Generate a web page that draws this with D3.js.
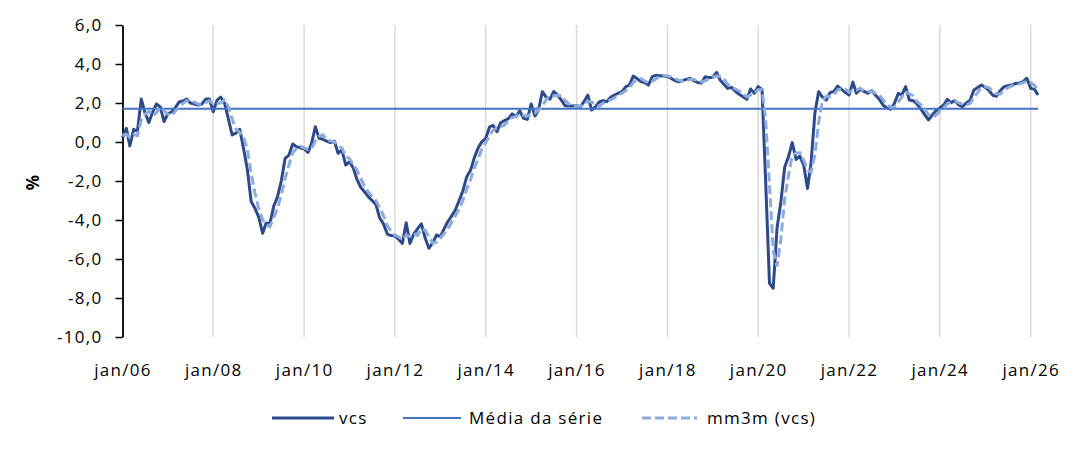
<!DOCTYPE html>
<html>
<head>
<meta charset="utf-8">
<script src="https://cdn.jsdelivr.net/npm/d3@7/dist/d3.min.js"></script>
<style>
  body { margin: 0; background: #fff; }
  svg text { font-family: "Open Sans", sans-serif; font-size: 17px; fill: #000; letter-spacing: 1.3px; }
</style>
</head>
<body>
<script>
// size of the picture
const width = 1082;
const height = 462;

// vcs, % (monthly, jan/06 .. mar/26)
const vcs = [
  0.2, 0.7, -0.2, 0.65, 0.55, 2.2, 1.5, 1.0, 1.55, 1.95, 1.8, 1.05,
  1.45, 1.55, 1.75, 2.05, 2.1, 2.2, 2.0, 1.95, 1.9, 1.95, 2.2, 2.2,
  1.55, 2.15, 2.3, 2.0, 1.2, 0.36, 0.45, 0.65, -0.35, -1.4, -3.05, -3.4,
  -3.85, -4.68, -4.17, -4.17, -3.3, -2.8, -2.0, -0.84, -0.67, -0.1, -0.24, -0.3,
  -0.35, -0.53, -0.1, 0.78, 0.19, 0.14, 0.05, -0.03, 0.05, -0.58, -0.4, -1.18,
  -1.01, -1.35, -1.9, -2.32, -2.55, -2.8, -3.0, -3.2, -3.9, -4.2, -4.72, -4.8,
  -4.82, -5.0, -5.2, -4.14, -5.2, -4.72, -4.45, -4.2, -4.94, -5.45, -5.16, -4.77,
  -4.85, -4.43, -4.09, -3.8, -3.49, -3.0, -2.5, -1.78, -1.44, -0.8, -0.3, 0.02,
  0.19, 0.78, 0.85, 0.53, 0.99, 1.1, 1.2, 1.44, 1.3, 1.6, 1.21, 1.16,
  1.95, 1.33, 1.64, 2.58, 2.3, 2.2, 2.58, 2.41, 2.15, 1.86, 1.85, 1.85,
  1.86, 1.8, 2.07, 2.41, 1.64, 1.8, 2.05, 2.12, 2.07, 2.29, 2.41, 2.5,
  2.58, 2.84, 2.92, 3.38, 3.26, 3.1, 3.05, 2.92, 3.35, 3.42, 3.4, 3.38,
  3.35, 3.26, 3.15, 3.09, 3.15, 3.21, 3.26, 3.15, 3.05, 3.03, 3.35, 3.3,
  3.32, 3.57, 3.18, 2.95, 2.75, 2.8, 2.6, 2.45, 2.32, 2.19, 2.72, 2.5,
  2.84, 2.7, -2.0, -7.25, -7.5, -4.4, -3.1, -1.3, -0.75, -0.03, -0.89, -0.72,
  -1.18, -2.38, -1.09, 1.47, 2.58, 2.3, 2.15, 2.53, 2.6, 2.87, 2.7, 2.55,
  2.41, 3.07, 2.5, 2.7, 2.6, 2.5, 2.63, 2.41, 2.19, 1.9, 1.75, 1.68,
  1.98, 2.5, 2.41, 2.84, 2.15, 2.12, 1.95, 1.7, 1.4, 1.13, 1.38, 1.6,
  1.75, 1.9, 2.19, 2.02, 2.12, 1.9, 1.81, 2.0, 2.15, 2.67, 2.8, 2.92,
  2.8, 2.63, 2.4, 2.35, 2.63, 2.84, 2.88, 2.92, 3.0, 3.02, 3.1, 3.27,
  2.75, 2.7, 2.41
];

// mm3m (vcs), % - the dashed line
const mm3m = [
  0.35, 0.4, 0.23, 0.38, 0.33, 1.13, 1.42, 1.57, 1.35, 1.5, 1.77, 1.6,
  1.43, 1.35, 1.58, 1.78, 1.97, 2.12, 2.1, 2.05, 1.95, 1.93, 2.02, 2.12,
  1.98, 1.97, 2.0, 2.15, 1.83, 1.19, 0.67, 0.49, 0.25, -0.37, -1.6, -2.62,
  -3.43, -3.98, -4.23, -4.34, -3.88, -3.42, -2.7, -1.88, -1.17, -0.54, -0.34, -0.21,
  -0.3, -0.39, -0.33, 0.05, 0.29, 0.37, 0.13, 0.05, 0.02, -0.19, -0.31, -0.72,
  -0.86, -1.18, -1.42, -1.86, -2.26, -2.56, -2.78, -3.0, -3.37, -3.77, -4.27, -4.57,
  -4.78, -4.87, -5.01, -4.78, -4.85, -4.69, -4.79, -4.46, -4.53, -4.86, -5.18, -5.13,
  -4.93, -4.68, -4.46, -4.11, -3.79, -3.43, -3.0, -2.43, -1.91, -1.34, -0.85, -0.36,
  -0.03, 0.33, 0.61, 0.72, 0.79, 0.87, 1.1, 1.25, 1.31, 1.45, 1.37, 1.32,
  1.44, 1.48, 1.64, 1.85, 2.17, 2.36, 2.36, 2.4, 2.38, 2.14, 1.95, 1.85,
  1.85, 1.84, 1.91, 2.09, 2.04, 1.95, 1.83, 1.99, 2.08, 2.16, 2.26, 2.4,
  2.5, 2.64, 2.78, 3.05, 3.19, 3.25, 3.14, 3.02, 3.11, 3.23, 3.39, 3.4,
  3.38, 3.33, 3.25, 3.17, 3.13, 3.15, 3.21, 3.21, 3.15, 3.08, 3.14, 3.23,
  3.32, 3.4, 3.36, 3.23, 2.96, 2.83, 2.72, 2.62, 2.46, 2.32, 2.41, 2.47,
  2.69, 2.68, 1.18, -2.18, -5.58, -6.38, -5.0, -2.93, -1.72, -0.69, -0.56, -0.55,
  -0.93, -1.43, -1.55, -0.67, 0.99, 2.12, 2.34, 2.33, 2.43, 2.67, 2.72, 2.71,
  2.55, 2.68, 2.66, 2.76, 2.6, 2.6, 2.58, 2.51, 2.41, 2.17, 1.95, 1.78,
  1.8, 2.05, 2.3, 2.58, 2.47, 2.37, 2.07, 1.92, 1.68, 1.41, 1.3, 1.37,
  1.58, 1.75, 1.95, 2.04, 2.11, 2.01, 1.94, 1.9, 1.99, 2.27, 2.54, 2.8,
  2.84, 2.78, 2.61, 2.46, 2.46, 2.61, 2.78, 2.88, 2.93, 2.98, 3.04, 3.13,
  3.04, 2.91, 2.62
];

// average of the series (horizontal line)
const mediaSerie = 1.7;

const xTickLabels = ["jan/06", "jan/08", "jan/10", "jan/12", "jan/14", "jan/16",
  "jan/18", "jan/20", "jan/22", "jan/24", "jan/26"];
const yTicks = [-10, -8, -6, -4, -2, 0, 2, 4, 6];
const legendNames = ["vcs", "Média da série", "mm3m (vcs)"];

const colVcs = "#2c4a8a";
const colMedia = "#4472c4";
const colMm3m = "#8eaadb";

// months jan/06 .. mar/26
const months = d3.timeMonth.range(new Date(2006, 0, 1), new Date(2026, 3, 1));
const xTickDates = d3.timeYear.every(2).range(new Date(2006, 0, 1), new Date(2026, 1, 1));

// pt-BR style numbers: 2,0 and -10,0
const ptBR = d3.formatLocale({ decimal: ",", thousands: ".", grouping: [3], currency: ["R$", ""], minus: "-" });
const fmt = ptBR.format(".1f");

var svg = d3.select("body").append("svg")
  .attr("width", width)
  .attr("height", height)
  .style("background", "#fff");

var x = d3.scaleTime()
  .domain([new Date(2006, 0, 1), new Date(2026, 0, 1)])
  .range([122.5, 1030.7]);

var y = d3.scaleLinear()
  .domain([-10, 6])
  .range([337, 25]);

// vertical gridlines every two years
svg.append("g")
  .selectAll("line")
  .data(xTickDates.slice(1))
  .enter().append("line")
  .attr("x1", d => x(d)).attr("x2", d => x(d))
  .attr("y1", y(6)).attr("y2", y(-10))
  .attr("stroke", "#d9d9d9")
  .attr("stroke-width", 1.5);

// y axis
var yAxis = svg.append("g")
  .attr("transform", "translate(" + x(months[0]) + ",0)")
  .call(d3.axisLeft(y).tickValues(yTicks).tickFormat(fmt).tickSize(7).tickSizeOuter(0).tickPadding(13));
yAxis.select(".domain").attr("stroke", "#000").attr("stroke-width", 1.8);
yAxis.selectAll(".tick line").attr("stroke", "#000").attr("stroke-width", 1.5);

// x axis labels only
var xAxis = svg.append("g")
  .attr("transform", "translate(0," + y(-10) + ")")
  .call(d3.axisBottom(x).tickValues(xTickDates).tickFormat((d, i) => xTickLabels[i]).tickSize(0).tickPadding(27));
xAxis.select(".domain").remove();

// y title
svg.append("text")
  .attr("transform", "translate(39,182) rotate(-90)")
  .attr("text-anchor", "middle")
  .style("font-weight", "bold")
  .text("%");

var line = d3.line()
  .x((d, i) => x(months[i]))
  .y(d => y(d));

// vcs
svg.append("path")
  .datum(vcs)
  .attr("d", line)
  .attr("fill", "none")
  .attr("stroke", colVcs)
  .attr("stroke-width", 3)
  .attr("stroke-linejoin", "round");

// média da série
svg.append("line")
  .attr("x1", x(months[0])).attr("x2", x(months[months.length - 1]))
  .attr("y1", y(mediaSerie)).attr("y2", y(mediaSerie))
  .attr("stroke", colMedia)
  .attr("stroke-width", 2);

// mm3m dashed
svg.append("path")
  .datum(mm3m)
  .attr("d", line)
  .attr("fill", "none")
  .attr("stroke", colMm3m)
  .attr("stroke-width", 3)
  .attr("stroke-dasharray", "9,4");

// legend
var legendItems = [
  { name: legendNames[0], color: colVcs, w: 3, dash: null, x1: 272, x2: 334, tx: 339 },
  { name: legendNames[1], color: colMedia, w: 2, dash: null, x1: 403, x2: 461, tx: 469 },
  { name: legendNames[2], color: colMm3m, w: 3, dash: "9,4", x1: 642, x2: 697, tx: 707 }
];
var legend = svg.append("g");
legend.selectAll("line")
  .data(legendItems)
  .enter().append("line")
  .attr("x1", d => d.x1).attr("x2", d => d.x2)
  .attr("y1", 418).attr("y2", 418)
  .attr("stroke", d => d.color)
  .attr("stroke-width", d => d.w)
  .attr("stroke-dasharray", d => d.dash);
legend.selectAll("text")
  .data(legendItems)
  .enter().append("text")
  .attr("x", d => d.tx)
  .attr("y", 424)
  .text(d => d.name);
</script>
</body>
</html>
